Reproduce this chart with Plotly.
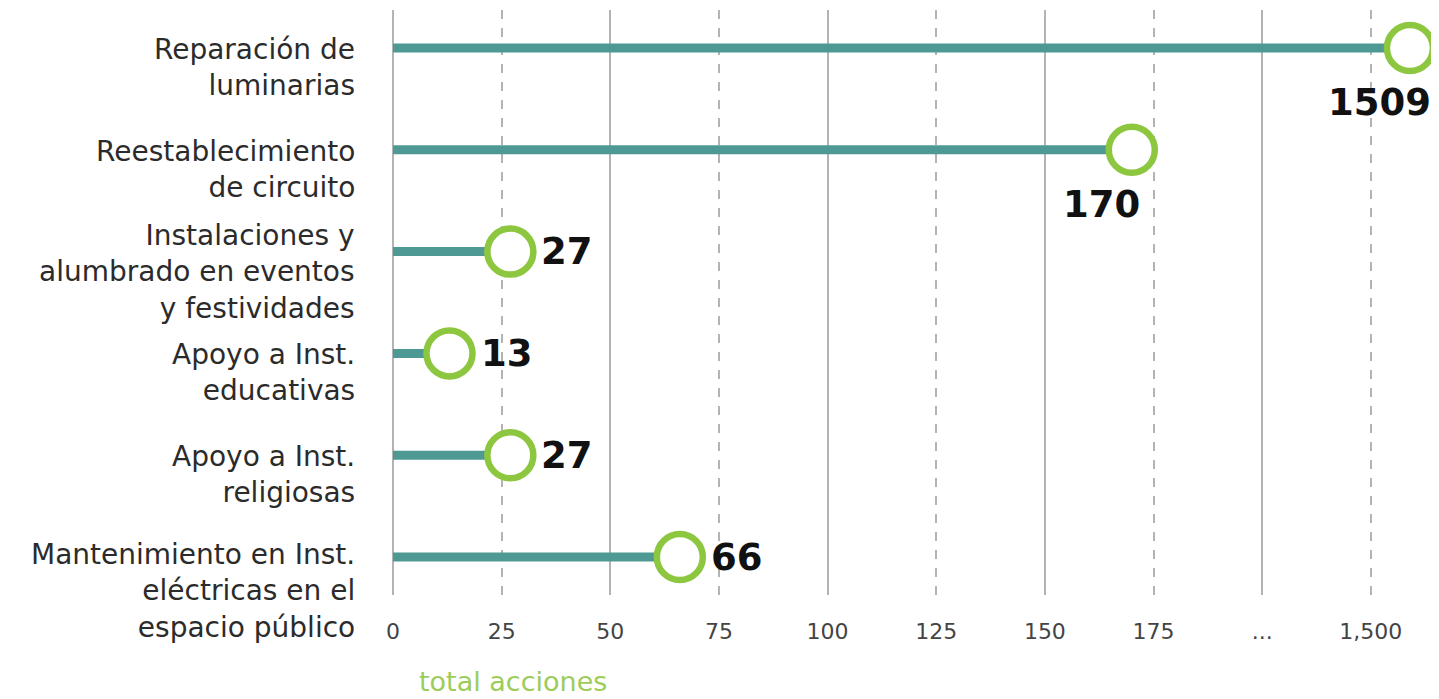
import plotly.graph_objects as go

# ---- data ----
categories = [
    "Reparación de<br>luminarias",
    "Reestablecimiento<br>de circuito",
    "Instalaciones y<br>alumbrado en eventos<br>y festividades",
    "Apoyo a Inst.<br>educativas",
    "Apoyo a Inst.<br>religiosas",
    "Mantenimiento en Inst.<br>eléctricas en el<br>espacio público",
]
values = [1509, 170, 27, 13, 27, 66]
solid_tick_vals = [0, 50, 100, 150, 200]
solid_tick_text = ["0", "50", "100", "150", "..."]
dashed_tick_vals = [25, 75, 125, 175, 225]
dashed_tick_text = ["25", "75", "125", "175", "1,500"]
axis_title = "total acciones"

# broken axis: values above the break map onto the last segment
BREAK_LOW, BREAK_HIGH, BREAK_POS = 175, 1500, 225
def to_axis(v):
    return v if v <= BREAK_LOW else BREAK_POS + (v - BREAK_HIGH)

xs = [to_axis(v) for v in values]
rows = list(range(len(values)))

TEAL = "#4e9994"
GREEN = "#8dc63f"
GRID = "#b3b3b3"
LABEL_FONT = "DejaVu Sans"
VALUE_FONT = "DejaVu Sans"

fig = go.Figure()

# dummy trace for secondary axis (dashed grid)
fig.add_trace(go.Scatter(x=[0], y=[0], xaxis="x2", mode="markers",
                         marker=dict(opacity=0), hoverinfo="skip", showlegend=False))
# stems
lx, ly = [], []
for r, x in zip(rows, xs):
    lx += [0, x, None]
    ly += [r, r, None]
fig.add_trace(go.Scatter(x=lx, y=ly, mode="lines",
                         line=dict(color=TEAL, width=9),
                         hoverinfo="skip", showlegend=False, cliponaxis=False))
# heads
fig.add_trace(go.Scatter(x=xs, y=rows, mode="markers",
                         marker=dict(size=46, color="white",
                                     line=dict(color=GREEN, width=6.5)),
                         showlegend=False, cliponaxis=False))

annotations = []
# value labels
for r, x, v in zip(rows, xs, values):
    if x > 150:
        annotations.append(dict(x=x, y=r, xref="x", yref="y", text=f"<b>{v}</b>",
                                showarrow=False, xanchor="center", yanchor="top",
                                xshift=-30, yshift=-31,
                                font=dict(family=VALUE_FONT, size=37, color="#111")))
    else:
        annotations.append(dict(x=x, y=r, xref="x", yref="y", text=f"<b>{v}</b>",
                                showarrow=False, xanchor="left", yanchor="middle",
                                xshift=29, yshift=0,
                                font=dict(family=VALUE_FONT, size=37, color="#111")))

# category labels (first line aligned with stem; 3-line label lifted half a line)
line_offsets = [0, 0, 0.5, 0, 0, 0.1]
LINE_H = 36
for r, txt, off in zip(rows, categories, line_offsets):
    annotations.append(dict(x=0, y=r, xref="x", yref="y", text=txt, showarrow=False,
                            xanchor="right", yanchor="top", align="right",
                            xshift=-36, yshift=LINE_H / 2 + off * LINE_H - 1,
                            font=dict(family=LABEL_FONT, size=28, color="#2b2b2b")))

annotations.append(dict(x=0.115, y=0, xref="paper", yref="paper", text=axis_title,
                        showarrow=False, xanchor="center", yanchor="middle", yshift=-86,
                        font=dict(family=LABEL_FONT, size=27, color="#9ccc5a")))

XR = [0, 240]
# page body has an 8px margin: figure is sized/offset to compensate
fig.update_layout(
    width=1431, height=691,
    margin=dict(l=385, r=3, t=2, b=104),
    plot_bgcolor="white", paper_bgcolor="white",
    xaxis=dict(range=XR, tickmode="array", tickvals=solid_tick_vals, ticktext=solid_tick_text,
               showgrid=True, gridcolor=GRID, gridwidth=2,
               zeroline=True, zerolinecolor=GRID, zerolinewidth=2,
               showline=False, ticks="", ticklabelstandoff=21,
               tickfont=dict(family=LABEL_FONT, size=22, color="#444")),
    xaxis2=dict(range=XR, overlaying="x", side="bottom", tickmode="array",
                tickvals=dashed_tick_vals, ticktext=dashed_tick_text,
                showgrid=True, gridcolor=GRID, gridwidth=1.5, griddash="dash",
                zeroline=False, showline=False, ticks="", ticklabelstandoff=21,
                tickfont=dict(family=LABEL_FONT, size=22, color="#444")),
    yaxis=dict(range=[5.373, -0.373], showgrid=False, zeroline=False,
               showticklabels=False, ticks=""),
    annotations=annotations,
    showlegend=False,
)

fig.write_html("out.html")
